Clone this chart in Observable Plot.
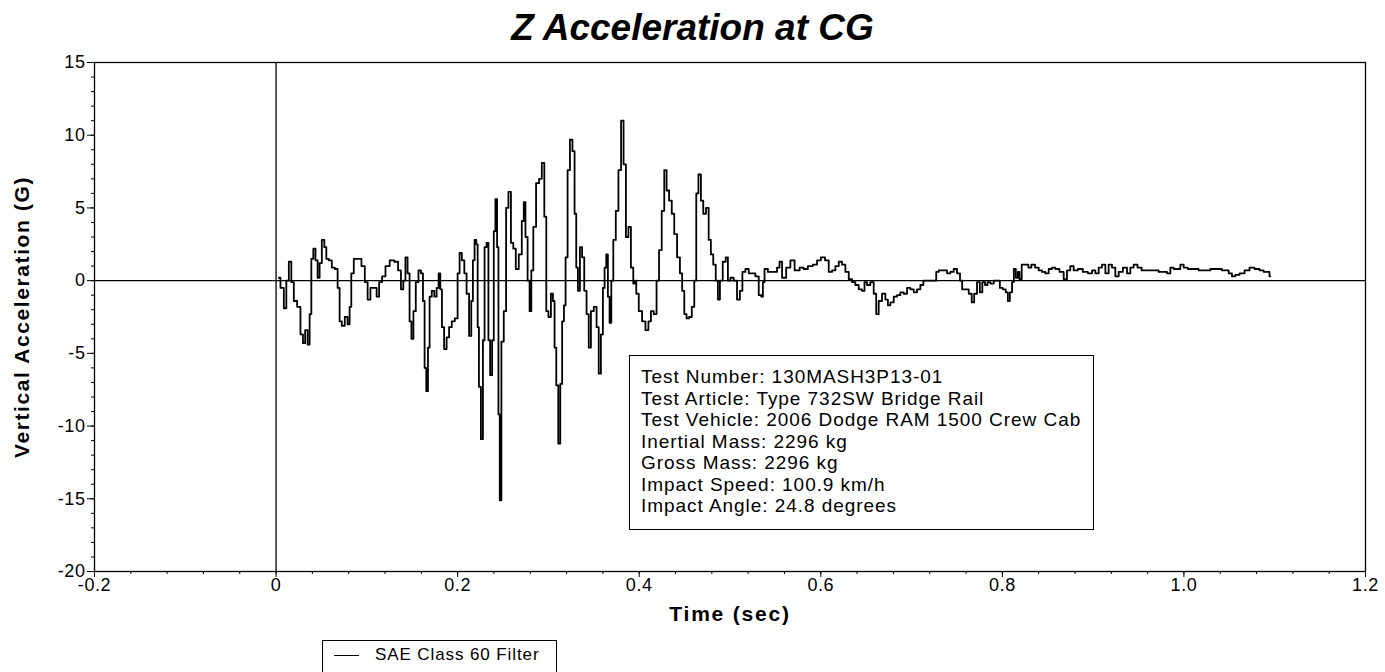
<!DOCTYPE html>
<html>
<head>
<meta charset="utf-8">
<script src="https://cdn.jsdelivr.net/npm/d3@7"></script>
<script src="https://cdn.jsdelivr.net/npm/@observablehq/plot@0.6"></script>
<style>
  body { margin: 0; background: white; font-family: "Liberation Sans", Arial, sans-serif; }
  #wrap { position: relative; width: 1385px; height: 672px; overflow: hidden; background: white; }
  #title { position: absolute; left: 0; top: 6px; width: 1385px; text-align: center; font-size: 37px; line-height: 44px; font-weight: bold; font-style: italic; }
  #chart { position: absolute; left: 0; top: 52px; }
  #info { position: absolute; left: 629px; top: 355px; width: 465px; height: 175px; border: 1.3px solid black; background: white; font-size: 19px; line-height: 21.5px; letter-spacing: 0.95px; padding: 10px 0 0 11px; box-sizing: border-box; }
  #legend { position: absolute; left: 322px; top: 640px; width: 235px; height: 40px; border: 1.3px solid black; box-sizing: border-box; font-size: 17px; letter-spacing: 0.9px; }
  #legend .sw { position: absolute; left: 11px; top: 14px; width: 25px; border-top: 1.5px solid black; }
  #legend .lb { position: absolute; left: 52px; top: 4px; }
  #chart svg text { letter-spacing: 0.6px; }
</style>
</head>
<body>
<div id="wrap">
  <div id="title"></div>
  <div id="chart"></div>
  <div id="info"></div>
  <div id="legend"><div class="sw"></div><div class="lb"></div></div>
</div>
<script>
const titleText = "Z Acceleration at CG";
const xLabel = "Time (sec)";
const yLabel = "Vertical Acceleration (G)";
const legendLabel = "SAE Class 60 Filter";
const infoLines = [
  "Test Number: 130MASH3P13-01",
  "Test Article: Type 732SW Bridge Rail",
  "Test Vehicle: 2006 Dodge RAM 1500 Crew Cab",
  "Inertial Mass: 2296 kg",
  "Gross Mass: 2296 kg",
  "Impact Speed: 100.9 km/h",
  "Impact Angle: 24.8 degrees"
];
const xTicks = [-0.2, 0, 0.2, 0.4, 0.6, 0.8, 1.0, 1.2];
const yTicks = [-20, -15, -10, -5, 0, 5, 10, 15];
const xMinorTicks = d3.range(-0.2, 1.2001, 0.04);
const yMinorTicks = d3.range(-20, 15.001, 1);

const time = [
0.0030,0.0067,0.0104,0.0122,0.0159,0.0177,0.0214,0.0250,0.0287,0.0305,0.0335,0.0360,0.0379,0.0398,0.0423,0.0445,0.0470,0.0489,0.0519,0.0544,
0.0563,0.0599,0.0629,0.0665,0.0691,0.0709,0.0739,0.0775,0.0801,0.0819,0.0838,0.0874,0.0922,0.0959,0.0996,0.1021,0.1058,0.1095,0.1120,0.1150,
0.1186,0.1224,0.1279,0.1326,0.1362,0.1389,0.1414,0.1436,0.1461,0.1480,0.1502,0.1524,0.1554,0.1583,0.1609,0.1627,0.1645,0.1664,0.1682,0.1700,
0.1730,0.1756,0.1781,0.1800,0.1818,0.1836,0.1866,0.1891,0.1921,0.1950,0.1987,0.2012,0.2031,0.2061,0.2086,0.2111,0.2141,0.2159,0.2177,0.2196,
0.2215,0.2226,0.2243,0.2270,0.2287,0.2306,0.2331,0.2347,0.2369,0.2391,0.2405,0.2427,0.2442,0.2457,0.2471,0.2493,0.2523,0.2545,0.2574,0.2600,
0.2626,0.2655,0.2692,0.2721,0.2736,0.2758,0.2783,0.2802,0.2821,0.2846,0.2882,0.2912,0.2942,0.2967,0.2986,0.3014,0.3041,0.3058,0.3077,0.3096,
0.3121,0.3140,0.3162,0.3180,0.3198,0.3224,0.3250,0.3279,0.3297,0.3316,0.3334,0.3360,0.3382,0.3407,0.3433,0.3455,0.3481,0.3518,0.3543,0.3565,
0.3591,0.3609,0.3628,0.3646,0.3664,0.3683,0.3702,0.3727,0.3757,0.3785,0.3815,0.3840,0.3867,0.3895,0.3922,0.3947,0.3958,0.3977,0.4013,0.4050,
0.4087,0.4116,0.4142,0.4178,0.4204,0.4233,0.4263,0.4289,0.4314,0.4344,0.4373,0.4399,0.4435,0.4462,0.4484,0.4509,0.4534,0.4564,0.4594,0.4619,
0.4638,0.4666,0.4693,0.4718,0.4754,0.4776,0.4803,0.4828,0.4858,0.4876,0.4902,0.4938,0.4968,0.4986,0.5023,0.5059,0.5096,0.5122,0.5151,0.5188,
0.5225,0.5261,0.5298,0.5335,0.5354,0.5371,0.5390,0.5445,0.5500,0.5536,0.5555,0.5592,0.5646,0.5684,0.5739,0.5794,0.5830,0.5885,0.5940,0.5977,
0.6025,0.6069,0.6106,0.6142,0.6180,0.6216,0.6252,0.6290,0.6326,0.6362,0.6399,0.6436,0.6472,0.6491,0.6527,0.6565,0.6601,0.6620,0.6656,0.6693,
0.6730,0.6748,0.6785,0.6822,0.6858,0.6895,0.6932,0.6968,0.7006,0.7042,0.7078,0.7116,0.7144,0.7262,0.7281,0.7317,0.7372,0.7409,0.7446,0.7482,
0.7519,0.7548,0.7567,0.7611,0.7648,0.7677,0.7702,0.7739,0.7765,0.7794,0.7824,0.7849,0.7887,0.7923,0.7959,0.7986,0.8022,0.8052,0.8069,0.8096,
0.8118,0.8135,0.8162,0.8179,0.8198,0.8228,0.8272,0.8301,0.8338,0.8382,0.8419,0.8455,0.8492,0.8529,0.8565,0.8602,0.8657,0.8694,0.8730,0.8767,
0.8804,0.8859,0.8914,0.8969,0.9006,0.9043,0.9079,0.9116,0.9153,0.9189,0.9226,0.9263,0.9300,0.9355,0.9391,0.9428,0.9465,0.9512,0.9556,0.9704,
0.9740,0.9795,0.9832,0.9869,0.9905,0.9942,0.9979,1.0015,1.0070,1.0144,1.0181,1.0254,1.0327,1.0401,1.0437,1.0475,1.0511,1.0547,1.0585,1.0640,
1.0695,1.0750,1.0805,1.0860,1.0896,1.0933,1.0952
];
const accel = [
0.2,-0.5,-1.9,0,1.3,-0.1,-1.4,-1.8,-3.7,-4.3,-3.4,-4.4,-2.3,1.5,2.2,1.4,0.2,1.2,2.8,2.3,
1.5,1.4,0.9,0.8,-0.5,-2.8,-3.1,-2.5,-3.0,-1.8,0.5,1.5,1.5,1.0,-0.1,-1.3,-0.5,-0.5,-1.1,-0.1,
0.3,1.0,1.4,1.3,0.7,-0.6,0,1.6,0.5,-2.8,-4.0,-2.1,-0.1,0.7,0.5,-1.4,-6.0,-7.6,-4.6,-1.1,
-0.7,-1.1,-0.5,0.5,-0.6,-3.2,-4.7,-3.9,-3.2,-2.8,-2.6,0.5,1.9,1.4,0.5,-0.9,-3.8,-1.4,1.4,2.8,
2.5,-3.2,-7.3,-10.9,-4.1,2.3,2.6,-4.1,-6.5,-4.1,3.4,5.6,2.3,-9.2,-15.1,-4.2,-2.1,5.0,6.1,2.6,
2.2,0.8,1.8,4.1,5.4,3.0,0,-2.1,0.7,3.7,6.7,7.0,8.1,4.4,-2.1,-2.5,-0.9,-1.4,-4.6,-7.2,
-11.2,-7.1,-2.8,-1.7,1.6,7.6,9.7,8.9,4.6,0.9,-0.7,2.3,1.6,-0.7,-2.3,-4.6,-2.1,-1.8,-3.2,-6.4,
-3.7,-0.5,0.9,1.8,-1.1,-2.9,0,2.8,4.8,7.6,11.0,8.0,3.0,3.7,0.9,-0.2,0,-0.9,-2.1,-2.8,
-3.4,-2.8,-2.1,-2.3,0,2.1,4.8,7.6,6.2,5.5,4.6,3.2,1.6,0.5,-0.7,-2.3,-2.6,-2.5,-1.8,0,
6.0,7.3,5.5,4.6,5.0,2.8,1.8,1.1,0,-1.3,0,1.3,1.6,0,0.2,0,-1.3,-0.7,0.6,0.8,
0.5,0.5,0.3,-1.0,-1.1,-0.1,0.8,0.6,0.6,0.9,1.3,0.2,0.9,1.4,0.7,0.9,0.8,1.0,1.1,1.4,
1.6,1.4,0.6,0.7,1.0,1.3,1.1,0.6,0.1,-0.1,-0.3,-0.6,-0.7,-0.1,-0.3,-0.1,-0.9,-2.3,-1.4,-0.9,
-1.3,-1.7,-1.5,-1.1,-1.0,-0.8,-0.9,-0.5,-0.6,-0.8,-0.6,-0.3,0,0,0.6,0.7,0.7,0.5,0.6,0.8,
0.5,0,-0.6,-0.6,-0.9,-1.5,-0.9,-0.1,-0.8,-0.1,-0.3,-0.1,-0.2,0,0,-0.5,-0.6,-0.8,-1.4,-0.8,
-0.1,0.8,0.2,0.6,0.1,1.1,1.1,0.9,1.1,0.9,0.7,0.6,0.5,0.8,0.9,0.8,0.6,0.1,0.7,1.0,
0.7,0.8,0.6,0.5,0.7,0.5,0.9,1.1,0.5,1.1,0.9,0.3,0.6,0.9,0.5,0.9,1.1,0.9,0.7,0.7,
0.6,0.6,0.5,0.9,0.8,0.8,1.1,0.9,0.8,0.8,0.7,0.7,0.8,0.8,0.7,0.7,0.5,0.3,0.4,0.5,
0.7,0.9,0.8,0.7,0.6,0.6,0.3
];

const data = time.map((t, i) => ({t, g: accel[i]}));
const fmtX = d => d === 0 ? "0" : d.toFixed(1);
const fmtY = d => String(d);

document.getElementById("title").textContent = titleText;
document.getElementById("info").innerHTML = infoLines.map(s => `<div>${s}</div>`).join("");
document.querySelector("#legend .lb").textContent = legendLabel;

const chart = Plot.plot({
  width: 1385,
  height: 590,
  marginLeft: 94,
  marginRight: 20,
  marginTop: 10,
  marginBottom: 71,
  x: {domain: [-0.2, 1.2]},
  y: {domain: [-20, 15]},
  style: {fontFamily: "'Liberation Sans', Arial, sans-serif", fontSize: "18px", color: "black", background: "white"},
  marks: [
    Plot.ruleX([0], {stroke: "black", strokeWidth: 1.3}),
    Plot.ruleY([0], {stroke: "black", strokeWidth: 1.3}),
    Plot.axisY(yMinorTicks, {tickSize: 3, text: null, label: null}),
    Plot.axisY(yTicks, {tickSize: 7, tickPadding: 2, fontSize: 18, tickFormat: fmtY, label: null}),
    Plot.axisX(xMinorTicks, {tickSize: 3, text: null, label: null}),
    Plot.axisX(xTicks, {tickSize: 6, tickPadding: 1, fontSize: 18, tickFormat: fmtX, label: null}),
    Plot.frame({stroke: "black", strokeWidth: 1.3}),
    Plot.line(data, {x: "t", y: "g", curve: "step", stroke: "black", strokeWidth: 1.8}),
    Plot.text([yLabel], {frameAnchor: "left", textAnchor: "middle", rotate: -90, dx: -72, fontWeight: "bold", fontSize: 21, text: d => d}),
    Plot.text([xLabel], {frameAnchor: "bottom", textAnchor: "middle", dy: 49, fontWeight: "bold", fontSize: 21, text: d => d})
  ]
});
document.getElementById("chart").appendChild(chart);
d3.select(chart).selectAll("text").filter(function () { return this.textContent === yLabel; }).style("letter-spacing", "1.6px");
d3.select(chart).selectAll("text").filter(function () { return this.textContent === xLabel; }).style("letter-spacing", "1.8px");
</script>
</body>
</html>
